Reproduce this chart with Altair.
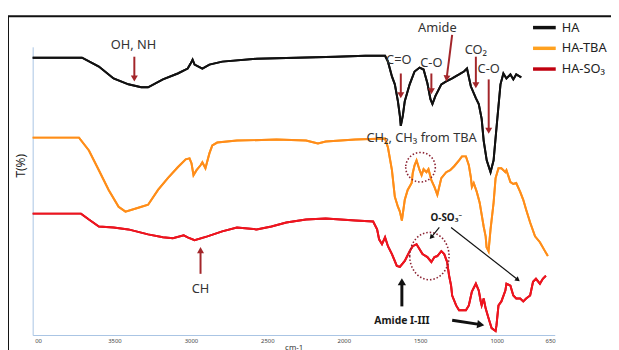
import altair as alt
import pandas as pd

FONT = "Noto Sans"

# ---------------- data ----------------
series_names = ["HA", "HA-TBA", "HA-SO₃"]
line_colors = ["#111111", "#FF8C1A", "#F0141E"]
legend_colors = ["#111111", "#FFA11F", "#C0000F"]

ha_wn = [4035, 3861, 3712, 3602, 3506, 3409, 3325, 3280, 3183, 3086, 3021, 3002, 2989, 2976, 2925,
         2879, 2795, 2570, 2311, 2053, 1859, 1730, 1711, 1685, 1666, 1646, 1633, 1627, 1614, 1601,
         1569, 1537, 1504, 1478, 1453, 1433, 1420, 1401, 1362, 1330, 1291, 1246, 1214, 1194, 1169,
         1136, 1117, 1098, 1085, 1065, 1040, 1020, 1001, 975, 956, 936, 910, 891, 872, 839]
ha_t = [281, 281, 281, 272, 260, 254, 251, 251, 259, 265, 270, 275, 279, 274, 270,
        274, 277, 280, 281, 282, 283, 283, 277, 262, 254, 237, 222, 212, 222, 237,
        254, 267, 271, 269, 255, 239, 234, 242, 254, 257, 260, 264, 267, 270, 252,
        240, 234, 219, 197, 177, 165, 177, 210, 254, 265, 260, 264, 259, 264, 261]

tba_wn = [4035, 3861, 3732, 3667, 3602, 3538, 3473, 3428, 3344, 3280, 3215, 3151, 3086, 3034, 3009,
          2996, 2983, 2963, 2937, 2925, 2905, 2879, 2860, 2828, 2699, 2440, 2247, 2169, 2118, 1924,
          1730, 1711, 1685, 1666, 1646, 1633, 1620, 1601, 1582, 1556, 1549, 1537, 1524, 1504, 1491,
          1478, 1459, 1446, 1427, 1407, 1388, 1362, 1330, 1304, 1278, 1246, 1227, 1201, 1182, 1169,
          1162, 1150, 1130, 1111, 1098, 1085, 1072, 1066, 1053, 1040, 1020, 1007, 988, 969, 943,
          936, 910, 891, 872, 846, 826, 807, 781, 749, 717, 684, 665]
tba_t = [200, 200, 200, 187, 167, 147, 130, 125, 129, 132, 147, 159, 170, 178, 179,
         174, 162, 167, 172, 175, 169, 184, 192, 195, 197, 198, 197, 194, 196, 198,
         199, 190, 167, 140, 130, 125, 116, 137, 147, 154, 164, 172, 177, 167, 162,
         168, 165, 168, 157, 150, 142, 159, 165, 167, 171, 177, 181, 181, 172, 160,
         150, 154, 145, 134, 122, 110, 100, 89, 85, 107, 134, 159, 169, 169, 165,
         167, 155, 153, 154, 145, 137, 127, 114, 100, 94, 85, 80]

so3_wn = [4035, 3861, 3719, 3667, 3602, 3506, 3409, 3280, 3183, 3118, 3047, 3021, 2976, 2892, 2795,
          2699, 2570, 2473, 2376, 2247, 2118, 1924, 1808, 1782, 1769, 1750, 1730, 1711, 1685, 1653,
          1633, 1601, 1569, 1549, 1524, 1504, 1485, 1453, 1427, 1407, 1388, 1362, 1343, 1324, 1311,
          1298, 1291, 1265, 1246, 1201, 1182, 1162, 1136, 1117, 1104, 1098, 1085, 1072, 1053, 1033,
          1007, 1001, 988, 969, 943, 936, 910, 891, 872, 846, 826, 807, 781, 762, 743,
          717, 698, 678]
so3_t = [123, 123, 123, 117, 110, 109, 107, 102, 99, 98, 101, 99, 96, 100, 105,
         109, 107, 110, 114, 117, 118, 116, 115, 107, 97, 92, 99, 90, 82, 70,
         69, 75, 85, 90, 92, 87, 82, 79, 74, 79, 80, 85, 82, 74, 60,
         50, 40, 30, 25, 25, 30, 44, 52, 45, 34, 30, 37, 27, 17, 7,
         4, 10, 30, 34, 45, 52, 50, 40, 37, 37, 34, 37, 40, 54, 57,
         52, 57, 60]

tick_values = [4000, 3500, 3000, 2500, 2000, 1500, 1000, 650]

# annotation texts
note_text = ["OH, NH", "C=O", "C-O", "Amide", "CO₂", "C-O", "CH₂, CH₃  from TBA", "CH"]
note_wn = [3376, 1640, 1427, 1388, 1136, 1052, 1491, 2937]
note_t = [294, 279, 276, 311, 289, 269, 200, 47]

bold_text = ["O-SO₃⁻", "Amide I-III"]
bold_wn = [1330, 1620]
bold_t = [119, 14]
bold_size = [10, 10.5]

# dark red arrows: start -> head
red_arrow_w1 = [3370, 1627, 1427, 1291, 1136, 1052, 2937]
red_arrow_t1 = [282, 265, 265, 304, 282, 259, 62]
red_arrow_w2 = [3370, 1627, 1427, 1327, 1136, 1052, 2937]
red_arrow_t2 = [260, 243, 247, 260, 253, 207, 86]
red_arrow_angle = [180, 180, 180, 187, 180, 180, 0]

# black arrows
blk_arrow_w1 = [1375, 1298, 1620, 1291]
blk_arrow_t1 = [109, 109, 29, 15]
blk_arrow_w2 = [1428, 861, 1620, 1104]
blk_arrow_t2 = [99, 56, 54, 10.5]
blk_arrow_angle = [220, 128, 0, 99]
blk_arrow_width = [1.2, 1.2, 3, 3]
blk_arrow_head = [30, 30, 70, 70]

# dotted circles
ring_wn = [1498, 1440]
ring_t = [170, 80]
ring_shape = ["M -1,0 A 1,1 0 1,0 1,0 A 1,1 0 1,0 -1,0 Z",
              "M -0.83,0 A 0.83,1 0 1,0 0.83,0 A 0.83,1 0 1,0 -0.83,0 Z"]
ring_size = [900, 2304]

# ---------------- tables ----------------
rows = []
for name, col, wn, t in zip(series_names, line_colors, [ha_wn, tba_wn, so3_wn], [ha_t, tba_t, so3_t]):
    for a, b in zip(wn, t):
        rows.append({"series": name, "wn": a, "T": b, "col": col})
spectra = pd.DataFrame(rows)

notes = pd.DataFrame({"label": note_text, "wn": note_wn, "T": note_t})
bolds = pd.DataFrame({"label": bold_text, "wn": bold_wn, "T": bold_t, "fs": bold_size})
red_arrows = pd.DataFrame({"w1": red_arrow_w1, "t1": red_arrow_t1, "w2": red_arrow_w2,
                           "t2": red_arrow_t2, "ang": red_arrow_angle})
blk_arrows = pd.DataFrame({"w1": blk_arrow_w1, "t1": blk_arrow_t1, "w2": blk_arrow_w2,
                           "t2": blk_arrow_t2, "ang": blk_arrow_angle, "sw": blk_arrow_width,
                           "hs": blk_arrow_head})
rings = pd.DataFrame({"wn": ring_wn, "T": ring_t, "shape": ring_shape, "size": ring_size})

xs = alt.Scale(domain=[4035, 620], nice=False, zero=False)
ys = alt.Scale(domain=[0, 292], nice=False, zero=False)

x_axis = alt.Axis(values=tick_values, format="d",
                  labelExpr="datum.value == 4000 ? '00' : datum.label",
                  domainColor="#A9C4E4", domainWidth=1, ticks=False, grid=False,
                  labelFontSize=6, labelColor="#444", labelPadding=3, labelFont=FONT,
                  titleFontSize=8, titleFontWeight="normal", titleColor="#333",
                  titlePadding=0, titleFont=FONT)
y_axis = alt.Axis(domainColor="#A9C4E4", domainWidth=1, ticks=False, labels=False, grid=False,
                  titleFontSize=12, titleFontWeight="normal", titleColor="#222", titleFont=FONT,
                  titleX=-12, titleY=120, titleAngle=270, titleAlign="center",
                  titleBaseline="middle")

legend_layer = alt.Chart(spectra).mark_line(strokeWidth=2).encode(
    x=alt.X("wn:Q", scale=xs, axis=x_axis, title="cm-1"),
    y=alt.Y("T:Q", scale=ys, axis=y_axis, title="T(%)"),
    color=alt.Color("series:N", title=None,
                    scale=alt.Scale(domain=series_names, range=legend_colors),
                    legend=alt.Legend(orient="none", legendX=505, legendY=-33,
                                      symbolType="stroke", symbolStrokeWidth=3.5,
                                      symbolSize=529, labelFontSize=13, labelFont=FONT,
                                      labelColor="#222", rowPadding=-2.5, labelOffset=4,
                                      padding=0)),
)

line_layer = alt.Chart(spectra).mark_line(strokeWidth=2).encode(
    x="wn:Q", y="T:Q",
    stroke=alt.Stroke("col:N", scale=None),
    detail="series:N",
)

frame_left = alt.Chart(pd.DataFrame({"k": [0]})).mark_rule(color="#111111", strokeWidth=2).encode(
    x=alt.value(-25), y=alt.value(-31), y2=alt.value(320))
frame_top = alt.Chart(pd.DataFrame({"k": [0]})).mark_rule(color="#111111", strokeWidth=2).encode(
    x=alt.value(-25), x2=alt.value(600), y=alt.value(-31))

note_layer = alt.Chart(notes).mark_text(font=FONT, fontSize=13, color="#333333",
                                        align="center", baseline="middle").encode(
    x="wn:Q", y="T:Q", text="label:N")

bold_layer = alt.Chart(bolds).mark_text(font=FONT, fontWeight="bold", color="#1a1a1a",
                                        align="center", baseline="middle").encode(
    x="wn:Q", y="T:Q", text="label:N", size=alt.Size("fs:Q", scale=None))

red_shaft = alt.Chart(red_arrows).mark_rule(color="#A3262A", strokeWidth=2).encode(
    x="w1:Q", y="t1:Q", x2="w2:Q", y2="t2:Q")
red_head = alt.Chart(red_arrows).mark_point(shape="triangle-up", filled=True, color="#A3262A",
                                            size=50, opacity=1).encode(
    x="w2:Q", y="t2:Q", angle=alt.Angle("ang:Q", scale=None))

blk_shaft = alt.Chart(blk_arrows).mark_rule(color="#111111").encode(
    x="w1:Q", y="t1:Q", x2="w2:Q", y2="t2:Q", strokeWidth=alt.StrokeWidth("sw:Q", scale=None))
blk_head = alt.Chart(blk_arrows).mark_point(shape="triangle-up", filled=True, color="#111111",
                                            opacity=1).encode(
    x="w2:Q", y="t2:Q", angle=alt.Angle("ang:Q", scale=None),
    size=alt.Size("hs:Q", scale=None))

ring_layer = alt.Chart(rings).mark_point(filled=False, color="#8B2232", strokeWidth=1.6,
                                         strokeDash=[1.5, 2], opacity=1).encode(
    x="wn:Q", y="T:Q", shape=alt.Shape("shape:N", scale=None),
    size=alt.Size("size:Q", scale=None))

chart = alt.layer(
    legend_layer, line_layer, frame_left, frame_top, ring_layer,
    red_shaft, red_head, blk_shaft, blk_head, note_layer, bold_layer,
).properties(
    width=529, height=292,
    autosize=alt.AutoSizeParams(type="none"),
    padding={"left": 25, "top": 37, "right": 57, "bottom": 25},
    background="white",
).configure_view(stroke="transparent")

chart.save("out.html", embed_options={"renderer": "svg", "actions": False})
